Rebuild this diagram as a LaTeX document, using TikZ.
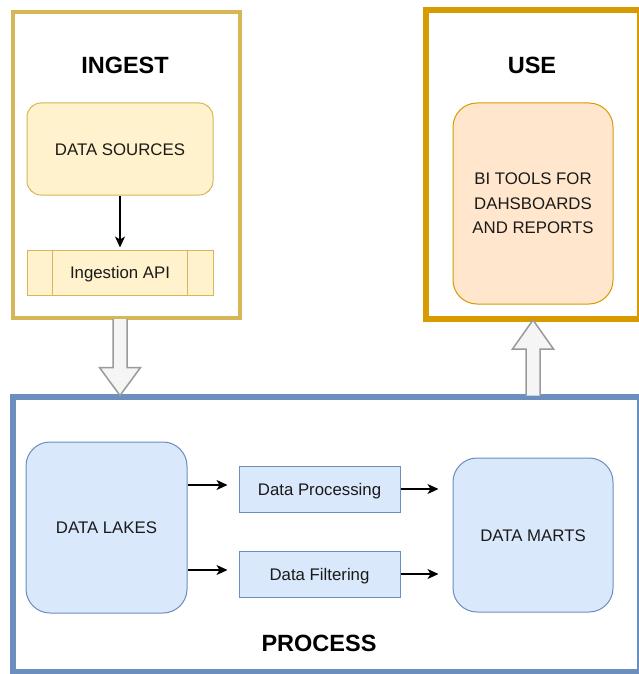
\documentclass[tikz,border=0pt]{standalone}
\usepackage{fontspec}
\setmainfont{Liberation Sans}
\usetikzlibrary{arrows.meta,calc}

\definecolor{ylwfill}{HTML}{FFF2CC}
\definecolor{ylwline}{HTML}{D6B656}
\definecolor{orgfill}{HTML}{FFE6CC}
\definecolor{orgline}{HTML}{D79B00}
\definecolor{blufill}{HTML}{DAE8FC}
\definecolor{bluline}{HTML}{6C8EBF}
\definecolor{txt}{HTML}{1A1A1A}
\definecolor{bafill}{HTML}{F5F5F5}
\definecolor{baline}{HTML}{9A9A9A}

\tikzset{
  frame/.style={draw, fill=none, inner sep=0pt, outer sep=0pt},
  title/.style={font=\fontsize{23.5}{28}\selectfont\bfseries, text=black},
  box/.style={draw, line width=1pt, inner sep=0pt, text=txt,
    font=\fontsize{16.8}{24.5}\selectfont, align=center},
  oneline/.style={text height=12.1pt, text depth=0pt},
  flow/.style={line width=1.3pt, draw=black,
    -{Stealth[length=11pt,width=10pt,inset=3pt]}},
  blockarrow/.style={draw=baline, fill=bafill, line width=1.5pt, line join=miter},
}

\begin{document}
\begin{tikzpicture}[x=1pt, y=-1pt]
  \useasboundingbox (0,0) rectangle (638,674);
  \fill[white] (0,0) rectangle (638,674);

  % inner boxes of the three stages
  \node[box, oneline, draw=ylwline, fill=ylwfill, rounded corners=14pt,
        minimum width=186pt, minimum height=92pt] (src) at (120,149) {DATA SOURCES};
  \node[box, oneline, draw=ylwline, fill=ylwfill,
        minimum width=186pt, minimum height=45pt] (api) at (120,272.5) {Ingestion API};
  \draw[ylwline, line width=1pt] ([xshift=26pt]api.north west) -- ([xshift=26pt]api.south west);
  \draw[ylwline, line width=1pt] ([xshift=-26pt]api.north east) -- ([xshift=-26pt]api.south east);

  \node[box, draw=orgline, fill=orgfill, rounded corners=24pt,
        minimum width=160pt, minimum height=201pt] (bi) at (533,203.5)
        {BI TOOLS FOR\\DAHSBOARDS\\AND REPORTS};

  \node[box, oneline, draw=bluline, fill=blufill, rounded corners=24pt,
        minimum width=161pt, minimum height=171pt] (lakes) at (106.5,527.5) {DATA LAKES};
  \node[box, oneline, draw=bluline, fill=blufill,
        minimum width=161pt, minimum height=46pt] (dproc) at (319.5,489) {Data Processing};
  \node[box, oneline, draw=bluline, fill=blufill,
        minimum width=161pt, minimum height=46pt] (dfilt) at (319.5,574) {Data Filtering};
  \node[box, oneline, draw=bluline, fill=blufill, rounded corners=24pt,
        minimum width=160pt, minimum height=154pt] (marts) at (533,535) {DATA MARTS};

  % stage frames
  \node[frame, draw=ylwline, line width=4pt,
        minimum width=227.5pt, minimum height=305.5pt] (ingest) at (126.25,165.25) {};
  \node[frame, draw=orgline, line width=6pt,
        minimum width=213.5pt, minimum height=308.5pt] (use) at (532.75,164.75) {};
  \node[frame, draw=bluline, line width=6pt,
        minimum width=627pt, minimum height=275.5pt] (proc) at (326,534.25) {};

  \node[title] (tingest) at (125,65) {INGEST};
  \node[title] (tuse) at (532,65) {USE};
  \node[title] (tproc) at (319,643) {PROCESS};

  % block arrows between the stages
  \coordinate (d0) at ([yshift=-1pt]src.center |- ingest.south);
  \coordinate (d1) at ([yshift=1pt]src.center |- proc.north);
  \draw[blockarrow]
    ([xshift=-7pt]d0) -- ([xshift=-7pt,yshift=28pt]d1) -- ([xshift=-20.5pt,yshift=28pt]d1)
    -- (d1) -- ([xshift=20.5pt,yshift=28pt]d1) -- ([xshift=7pt,yshift=28pt]d1)
    -- ([xshift=7pt]d0);

  \coordinate (u0) at ([yshift=1pt]bi.center |- proc.north);
  \coordinate (u1) at ([yshift=-1pt]bi.center |- use.south);
  \draw[blockarrow]
    ([xshift=-7pt]u0) -- ([xshift=-7pt,yshift=-29pt]u1) -- ([xshift=-20.5pt,yshift=-29pt]u1)
    -- (u1) -- ([xshift=20.5pt,yshift=-29pt]u1) -- ([xshift=7pt,yshift=-29pt]u1)
    -- ([xshift=7pt]u0);

  % connectors
  \draw[flow, shorten >=2pt] (src) -- (api);
  \draw[flow, shorten >=11pt] ([yshift=4pt]dproc.west -| lakes.east) -- ([yshift=4pt]dproc.west);
  \draw[flow, shorten >=11pt] ([yshift=4pt]dfilt.west -| lakes.east) -- ([yshift=4pt]dfilt.west);
  \draw[flow, shorten >=14pt] (dproc.east) -- (dproc.east -| marts.west);
  \draw[flow, shorten >=14pt] (dfilt.east) -- (dfilt.east -| marts.west);
\end{tikzpicture}
\end{document}
